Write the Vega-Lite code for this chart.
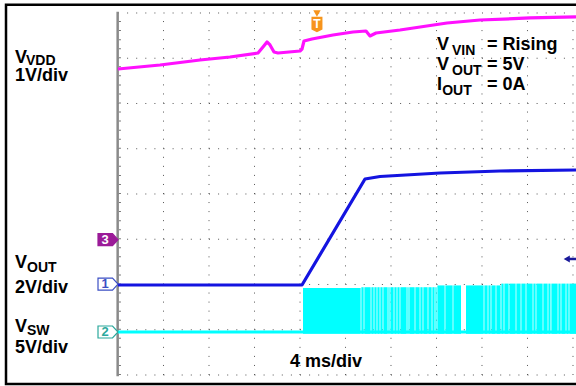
{
  "$schema": "https://vega.github.io/schema/vega-lite/v6.json",
  "width": 576,
  "height": 386,
  "autosize": "none",
  "padding": 0,
  "background": "white",
  "config": {"view": {"stroke": null}},
  "datasets": {
    "vgrid": [{"t": 4}, {"t": 8}, {"t": 12}, {"t": 16}, {"t": 20}, {"t": 24}, {"t": 28}, {"t": 32}, {"t": 36}, {"t": 40}],
    "hgrid": [{"div": 0}, {"div": 1}, {"div": 2}, {"div": 3}, {"div": 4}, {"div": 5}, {"div": 6}, {"div": 7}, {"div": 8}],
    "traces": [
      {"channel": "VDD", "t": 0, "div": 6.762},
      {"channel": "VDD", "t": 3.692, "div": 6.851},
      {"channel": "VDD", "t": 7.209, "div": 6.961},
      {"channel": "VDD", "t": 9.846, "div": 7.028},
      {"channel": "VDD", "t": 12.308, "div": 7.116},
      {"channel": "VDD", "t": 12.747, "div": 7.249},
      {"channel": "VDD", "t": 13.099, "div": 7.359},
      {"channel": "VDD", "t": 13.363, "div": 7.293},
      {"channel": "VDD", "t": 13.714, "div": 7.138},
      {"channel": "VDD", "t": 14.066, "div": 7.116},
      {"channel": "VDD", "t": 16.0, "div": 7.16},
      {"channel": "VDD", "t": 16.176, "div": 7.204},
      {"channel": "VDD", "t": 16.352, "div": 7.381},
      {"channel": "VDD", "t": 17.055, "div": 7.425},
      {"channel": "VDD", "t": 18.901, "div": 7.514},
      {"channel": "VDD", "t": 20.659, "div": 7.58},
      {"channel": "VDD", "t": 21.802, "div": 7.602},
      {"channel": "VDD", "t": 22.154, "div": 7.492},
      {"channel": "VDD", "t": 22.681, "div": 7.558},
      {"channel": "VDD", "t": 24.791, "div": 7.624},
      {"channel": "VDD", "t": 28.923, "div": 7.779},
      {"channel": "VDD", "t": 31.824, "div": 7.845},
      {"channel": "VDD", "t": 36.22, "div": 7.89},
      {"channel": "VDD", "t": 40.264, "div": 7.912},
      {"channel": "VOUT", "t": 0, "div": 1.989},
      {"channel": "VOUT", "t": 16.176, "div": 1.989},
      {"channel": "VOUT", "t": 21.714, "div": 4.331},
      {"channel": "VOUT", "t": 23.033, "div": 4.387},
      {"channel": "VOUT", "t": 28.308, "div": 4.464},
      {"channel": "VOUT", "t": 33.582, "div": 4.508},
      {"channel": "VOUT", "t": 40.264, "div": 4.53},
      {"channel": "VSW", "t": 0, "div": 0.95},
      {"channel": "VSW", "t": 40.264, "div": 0.95}
    ],
    "sw": [
      {"t1": 16.264, "t2": 21.33, "top": 1.92},
      {"t1": 21.395, "t2": 21.594, "top": 1.94},
      {"t1": 21.659, "t2": 22.209, "top": 1.94},
      {"t1": 22.275, "t2": 22.473, "top": 1.94},
      {"t1": 22.538, "t2": 22.736, "top": 1.94},
      {"t1": 22.802, "t2": 23.0, "top": 1.94},
      {"t1": 23.066, "t2": 23.264, "top": 1.94},
      {"t1": 23.329, "t2": 23.703, "top": 1.94},
      {"t1": 23.769, "t2": 23.879, "top": 1.94},
      {"t1": 23.945, "t2": 24.231, "top": 1.94},
      {"t1": 24.296, "t2": 24.495, "top": 1.94},
      {"t1": 24.56, "t2": 24.758, "top": 1.94},
      {"t1": 24.824, "t2": 25.374, "top": 1.94},
      {"t1": 25.439, "t2": 25.55, "top": 1.94},
      {"t1": 25.615, "t2": 26.077, "top": 1.94},
      {"t1": 26.143, "t2": 26.517, "top": 1.94},
      {"t1": 26.582, "t2": 26.78, "top": 1.94},
      {"t1": 26.846, "t2": 27.22, "top": 1.94},
      {"t1": 27.285, "t2": 27.572, "top": 1.94},
      {"t1": 27.637, "t2": 27.835, "top": 1.94},
      {"t1": 27.901, "t2": 28.011, "top": 1.94},
      {"t1": 28.077, "t2": 28.714, "top": 1.98},
      {"t1": 28.78, "t2": 29.418, "top": 1.98},
      {"t1": 29.483, "t2": 30.154, "top": 1.98},
      {"t1": 30.593, "t2": 32.143, "top": 1.98},
      {"t1": 32.208, "t2": 32.495, "top": 1.98},
      {"t1": 32.56, "t2": 32.758, "top": 1.98},
      {"t1": 32.824, "t2": 33.198, "top": 1.98},
      {"t1": 33.264, "t2": 33.638, "top": 1.98},
      {"t1": 33.703, "t2": 33.901, "top": 2.02},
      {"t1": 33.967, "t2": 34.341, "top": 2.02},
      {"t1": 34.406, "t2": 34.956, "top": 2.02},
      {"t1": 35.022, "t2": 35.396, "top": 2.02},
      {"t1": 35.461, "t2": 35.835, "top": 2.02},
      {"t1": 35.901, "t2": 36.451, "top": 2.02},
      {"t1": 36.516, "t2": 36.715, "top": 2.02},
      {"t1": 36.78, "t2": 37.33, "top": 2.02},
      {"t1": 37.395, "t2": 37.769, "top": 2.02},
      {"t1": 37.835, "t2": 38.024, "top": 2.02},
      {"t1": 38.099, "t2": 38.649, "top": 2.02},
      {"t1": 38.714, "t2": 38.912, "top": 2.02},
      {"t1": 38.978, "t2": 39.352, "top": 2.02},
      {"t1": 39.417, "t2": 39.616, "top": 2.02},
      {"t1": 39.681, "t2": 40.264, "top": 2.02}
    ],
    "markers": [
      {"ch": "3", "div": 2.99},
      {"ch": "1", "div": 2.01},
      {"ch": "2", "div": 0.95}
    ],
    "labels": [
      {"kind": "main", "text": "V", "t": -9.055, "div": 6.895},
      {"kind": "main", "text": "1V/div", "t": -9.055, "div": 6.497},
      {"kind": "main", "text": "V", "t": -9.055, "div": 2.365},
      {"kind": "main", "text": "2V/div", "t": -9.055, "div": 1.812},
      {"kind": "main", "text": "V", "t": -9.055, "div": 0.95},
      {"kind": "main", "text": "5V/div", "t": -9.055, "div": 0.486},
      {"kind": "main", "text": "V", "t": 28.044, "div": 7.182},
      {"kind": "main", "text": "= Rising", "t": 32.44, "div": 7.182},
      {"kind": "main", "text": "V", "t": 28.044, "div": 6.74},
      {"kind": "main", "text": "= 5V", "t": 32.44, "div": 6.74},
      {"kind": "main", "text": "I", "t": 28.044, "div": 6.298},
      {"kind": "main", "text": "= 0A", "t": 32.44, "div": 6.298},
      {"kind": "main", "text": "4 ms/div", "t": 15.121, "div": 0.177},
      {"kind": "sub", "text": "VDD", "t": -8.088, "div": 6.851},
      {"kind": "sub", "text": "OUT", "t": -8.0, "div": 2.276},
      {"kind": "sub", "text": "SW", "t": -8.0, "div": 0.884},
      {"kind": "sub", "text": "VIN", "t": 29.363, "div": 7.072},
      {"kind": "sub", "text": "OUT", "t": 29.363, "div": 6.63},
      {"kind": "sub", "text": "OUT", "t": 28.5, "div": 6.188}
    ]
  },
  "resolve": {"scale": {"color": "independent", "fill": "independent", "stroke": "independent"}},
  "layer": [
    {
      "data": {"name": "vgrid"},
      "mark": {"type": "rule", "strokeDash": [1, 8.05], "color": "#555555", "strokeWidth": 1},
      "encoding": {
        "x": {"field": "t", "type": "quantitative", "scale": {"domain": [-10.374, 40.264], "nice": false, "zero": false}, "axis": null},
        "y": {"datum": 0, "type": "quantitative", "scale": {"domain": [-0.243, 8.287], "nice": false, "zero": false}, "axis": null},
        "y2": {"datum": 8}
      }
    },
    {
      "data": {"name": "hgrid"},
      "mark": {"type": "rule", "strokeDash": [1, 8.1], "color": "#555555", "strokeWidth": 1},
      "encoding": {
        "y": {"field": "div", "type": "quantitative", "axis": null},
        "x": {"datum": 0, "type": "quantitative", "axis": null},
        "x2": {"datum": 40}
      }
    },
    {
      "data": {"values": [{}]},
      "mark": {"type": "rule", "color": "#8a8a8a", "strokeWidth": 2.5},
      "encoding": {
        "x": {"datum": -0.03, "type": "quantitative", "axis": null},
        "y": {"datum": -0.03, "type": "quantitative", "axis": null},
        "y2": {"datum": 8.03}
      }
    },
    {
      "data": {"values": [{}]},
      "mark": {"type": "rule", "color": "#777777", "strokeWidth": 2, "strokeDash": [1, 8.05]},
      "encoding": {
        "x": {"datum": 0.17, "type": "quantitative", "axis": null},
        "y": {"datum": 0, "type": "quantitative", "axis": null},
        "y2": {"datum": 8}
      }
    },
    {
      "data": {"name": "sw"},
      "mark": {"type": "rect", "color": "#00ffff"},
      "encoding": {
        "x": {"field": "t1", "type": "quantitative", "axis": null},
        "x2": {"field": "t2"},
        "y": {"field": "top", "type": "quantitative", "axis": null},
        "y2": {"datum": 0.91}
      }
    },
    {
      "data": {"name": "traces"},
      "mark": {"type": "line", "strokeWidth": 3.2, "strokeJoin": "round"},
      "encoding": {
        "x": {"field": "t", "type": "quantitative", "axis": null},
        "y": {"field": "div", "type": "quantitative", "axis": null},
        "color": {"field": "channel", "type": "nominal", "legend": null, "scale": {"domain": ["VSW", "VOUT", "VDD"], "range": ["#00ffff", "#1414e0", "#ff10ff"]}},
        "order": {"field": "t", "type": "quantitative"}
      }
    },
    {
      "data": {"name": "markers"},
      "mark": {"type": "point", "filled": true, "strokeWidth": 1.2, "shape": "M-1,-0.6H0.45L1,0L0.45,0.6H-1Z", "size": 400, "opacity": 1},
      "encoding": {
        "x": {"datum": -0.879, "type": "quantitative", "axis": null},
        "y": {"field": "div", "type": "quantitative", "axis": null},
        "fill": {"field": "ch", "type": "nominal", "legend": null, "scale": {"domain": ["3", "1", "2"], "range": ["#9b1b98", "#ffffff", "#ffffff"]}},
        "stroke": {"field": "ch", "type": "nominal", "legend": null, "scale": {"domain": ["3", "1", "2"], "range": ["#9b1b98", "#3b4fc4", "#2ba89c"]}}
      }
    },
    {
      "data": {"name": "markers"},
      "mark": {"type": "text", "font": "Liberation Sans", "fontSize": 13, "fontWeight": "bold", "align": "center", "baseline": "middle"},
      "encoding": {
        "x": {"datum": -1.14, "type": "quantitative", "axis": null},
        "y": {"field": "div", "type": "quantitative", "axis": null},
        "text": {"field": "ch"},
        "color": {"field": "ch", "type": "nominal", "legend": null, "scale": {"domain": ["3", "1", "2"], "range": ["#ffffff", "#3b4fc4", "#2ba89c"]}}
      }
    },
    {
      "data": {"values": [{}]},
      "mark": {"type": "point", "filled": true, "shape": "triangle-down", "size": 55, "color": "#f7941d", "opacity": 1},
      "encoding": {
        "x": {"datum": 17.49, "type": "quantitative", "axis": null},
        "y": {"datum": 7.99, "type": "quantitative", "axis": null}
      }
    },
    {
      "data": {"values": [{}]},
      "mark": {"type": "point", "filled": true, "shape": "M-1,-1.4H1V0.9L0,1.4L-1,0.9Z", "size": 121, "color": "#f7941d", "opacity": 1},
      "encoding": {
        "x": {"datum": 17.49, "type": "quantitative", "axis": null},
        "y": {"datum": 7.746, "type": "quantitative", "axis": null}
      }
    },
    {
      "data": {"values": [{"label": "T"}]},
      "mark": {"type": "text", "font": "Liberation Sans", "fontSize": 12, "fontWeight": "bold", "color": "white", "align": "center", "baseline": "middle", "dy": 0},
      "encoding": {
        "x": {"datum": 17.49, "type": "quantitative", "axis": null},
        "y": {"datum": 7.746, "type": "quantitative", "axis": null},
        "text": {"field": "label"}
      }
    },
    {
      "data": {"values": [{}]},
      "mark": {"type": "rule", "color": "#1a1a9a", "strokeWidth": 2.5},
      "encoding": {
        "x": {"datum": 39.5, "type": "quantitative", "axis": null},
        "x2": {"datum": 40.4},
        "y": {"datum": 2.564, "type": "quantitative", "axis": null}
      }
    },
    {
      "data": {"values": [{}]},
      "mark": {"type": "point", "filled": true, "shape": "triangle-left", "size": 50, "color": "#1a1a9a", "opacity": 1},
      "encoding": {
        "x": {"datum": 39.45, "type": "quantitative", "axis": null},
        "y": {"datum": 2.564, "type": "quantitative", "axis": null}
      }
    },
    {
      "data": {"name": "labels"},
      "transform": [{"filter": "datum.kind === 'main'"}],
      "mark": {"type": "text", "font": "Liberation Sans", "fontSize": 18, "fontWeight": "bold", "color": "black", "align": "left", "baseline": "alphabetic"},
      "encoding": {
        "x": {"field": "t", "type": "quantitative", "axis": null},
        "y": {"field": "div", "type": "quantitative", "axis": null},
        "text": {"field": "text"}
      }
    },
    {
      "data": {"name": "labels"},
      "transform": [{"filter": "datum.kind === 'sub'"}],
      "mark": {"type": "text", "font": "Liberation Sans", "fontSize": 14, "fontWeight": "bold", "color": "black", "align": "left", "baseline": "alphabetic"},
      "encoding": {
        "x": {"field": "t", "type": "quantitative", "axis": null},
        "y": {"field": "div", "type": "quantitative", "axis": null},
        "text": {"field": "text"}
      }
    },
    {
      "data": {"values": [{}]},
      "mark": {"type": "rect", "filled": false, "stroke": "black", "strokeWidth": 2.5},
      "encoding": {
        "x": {"datum": -9.846, "type": "quantitative", "axis": null},
        "x2": {"datum": 41.5},
        "y": {"datum": 8.183, "type": "quantitative", "axis": null},
        "y2": {"datum": -0.199}
      }
    }
  ]
}
